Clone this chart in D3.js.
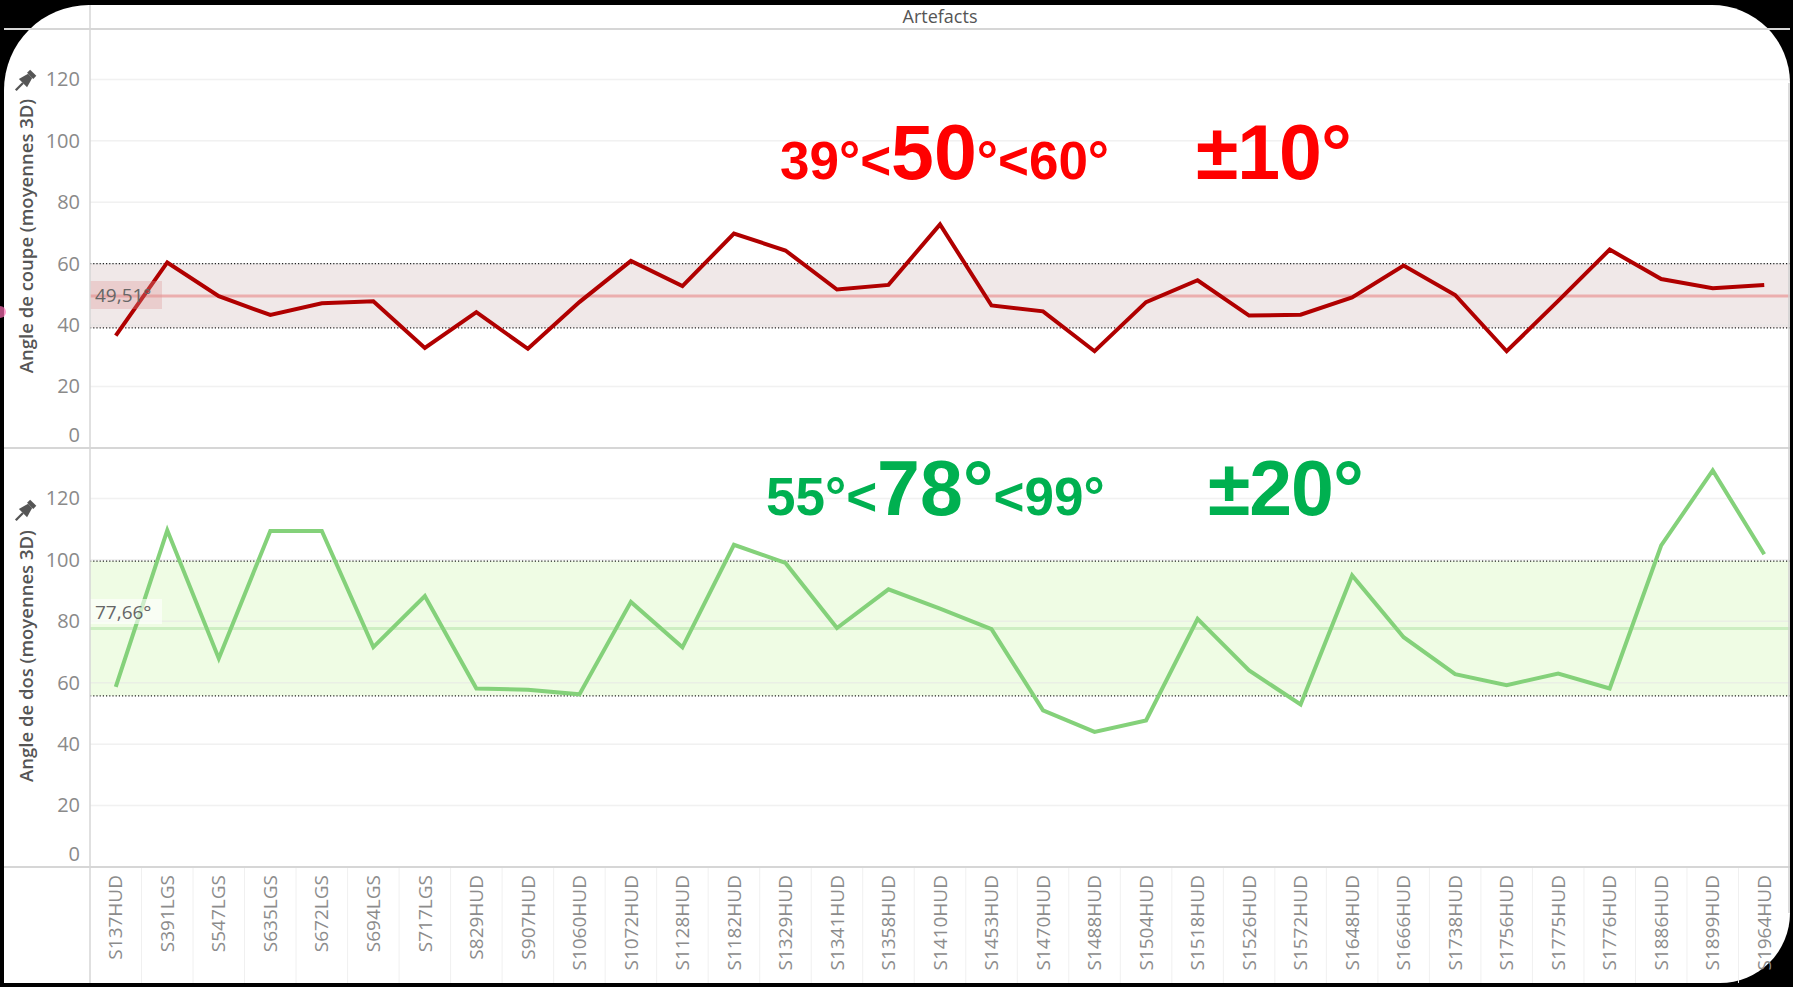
<!DOCTYPE html>
<html>
<head>
<meta charset="utf-8">
<script src="https://cdn.jsdelivr.net/npm/d3@7"></script>
<style>
body {margin:0; background:#000; overflow:hidden;}
text {font-family:"Open Sans", "Noto Sans", sans-serif;}
</style>
</head>
<body>
<div id="chart"></div>
<script>
var artefacts = ['S137HUD','S391LGS','S547LGS','S635LGS','S672LGS','S694LGS','S717LGS','S829HUD','S907HUD',
    'S1060HUD','S1072HUD','S1128HUD','S1182HUD','S1329HUD','S1341HUD','S1358HUD','S1410HUD','S1453HUD',
    'S1470HUD','S1488HUD','S1504HUD','S1518HUD','S1526HUD','S1572HUD','S1648HUD','S1666HUD','S1738HUD',
    'S1756HUD','S1775HUD','S1776HUD','S1886HUD','S1899HUD','S1964HUD'];

var angleCoupe = [36.6,60.4,49.4,43.3,47.1,47.8,32.6,44.2,32.3,47.5,60.9,52.7,69.8,64.3,51.6,53.1,72.8,
    46.4,44.5,31.5,47.5,54.6,43.1,43.4,49.0,59.4,49.8,31.5,47.9,64.6,55.0,52.0,53.1];

var angleDos = [58.6,109.6,67.9,109.4,109.4,71.6,88.2,58.1,57.7,56.2,86.3,71.5,104.9,99.0,77.8,90.4,84.1,
    77.4,51.0,44.0,47.7,80.8,64.0,52.9,94.9,74.8,62.8,59.2,63.0,58.1,104.7,129.1,101.8];

var yTicks = [0,20,40,60,80,100,120];
var yMax = 136.4;

var moyCoupe = 49.51, bandeCoupe = [39.1, 60.0];
var moyDos = 77.66, bandeDos = [55.7, 99.6];

var W = 1793, H = 987;
var left = 90, right = 1790;

var svg = d3.select('#chart').append('svg')
    .attr('width', W)
    .attr('height', H)

svg.append('rect').attr('width', W).attr('height', H).style('fill', '#000')

// carte blanche aux coins arrondis
var x0 = 4, y0 = 5, x1 = 1790, y1 = 983;
svg.append('path')
    .attr('d', 'M' + x0 + ',' + (y0 + 85) + ' A85,85 0 0 1 ' + (x0 + 85) + ',' + y0 +
        ' L' + (x1 - 78) + ',' + y0 + ' A78,78 0 0 1 ' + x1 + ',' + (y0 + 78) +
        ' L' + x1 + ',' + (y1 - 70) + ' A70,70 0 0 1 ' + (x1 - 70) + ',' + y1 +
        ' L' + x0 + ',' + y1 + ' Z')
    .style('fill', '#fff')

var xScale = d3.scaleBand()
    .domain(artefacts)
    .range([left, right])

var cx = function(d) { return xScale(d) + xScale.bandwidth() / 2; }

var panes = [
    {vals: angleCoupe, top: 29, bottom: 448, moy: moyCoupe, bande: bandeCoupe,
     stroke: '#b00000', moyColor: '#ebaeae', fill: '#f0e8e8',
     boxFill: 'rgba(222,150,150,0.32)', boxY: 281, boxH: 28, labelY: 302,
     title: 'Angle de coupe (moyennes 3D)', titleY: 236, pinY: 82},
    {vals: angleDos, top: 448, bottom: 867, moy: moyDos, bande: bandeDos,
     stroke: '#84d17a', moyColor: '#cdeec2', fill: '#effce4',
     boxFill: 'rgba(255,255,255,0.6)', boxY: 599, boxH: 25, labelY: 619,
     title: 'Angle de dos (moyennes 3D)', titleY: 656, pinY: 512}
];

panes.forEach(function(p) {
    var y = d3.scaleLinear().domain([0, yMax]).range([p.bottom, p.top]);
    var g = svg.append('g');

    // bande de référence
    g.append('rect')
        .attr('x', left).attr('width', right - left)
        .attr('y', y(p.bande[1]))
        .attr('height', y(p.bande[0]) - y(p.bande[1]))
        .style('fill', p.fill)

    g.selectAll('.grid').data(yTicks.slice(1)).enter()
        .append('line')
        .attr('x1', left).attr('x2', right)
        .attr('y1', function(d) { return y(d); })
        .attr('y2', function(d) { return y(d); })
        .style('stroke', '#e6e6e6').style('stroke-width', 1.5).style('opacity', 0.55)

    g.append('line')
        .attr('x1', left).attr('x2', right)
        .attr('y1', y(p.moy)).attr('y2', y(p.moy))
        .style('stroke', p.moyColor).style('stroke-width', 3)

    g.selectAll('.dot').data(p.bande).enter()
        .append('line')
        .attr('x1', left).attr('x2', right)
        .attr('y1', function(d) { return y(d); })
        .attr('y2', function(d) { return y(d); })
        .style('stroke', '#222').style('stroke-width', 1.2)
        .style('stroke-dasharray', '1.2,2')

    var line = d3.line()
        .x(function(d, i) { return cx(artefacts[i]); })
        .y(function(d) { return y(d); })

    g.append('path')
        .datum(p.vals)
        .attr('d', line)
        .style('fill', 'none')
        .style('stroke', p.stroke)
        .style('stroke-width', 4)

    // étiquette de la moyenne
    g.append('rect')
        .attr('x', left).attr('y', p.boxY)
        .attr('width', 72).attr('height', p.boxH)
        .style('fill', p.boxFill)
    g.append('text')
        .attr('x', left + 5).attr('y', p.labelY)
        .style('font-size', '19px').style('fill', '#666')
        .text(d3.format('.2f')(p.moy).replace('.', ',') + '°')

    // axe vertical
    var vAxis = d3.axisLeft(y).tickValues(yTicks).tickSize(0).tickPadding(10);
    var vGuide = svg.append('g').attr('transform', 'translate(' + left + ',0)');
    vAxis(vGuide);
    vGuide.select('.domain').remove();
    vGuide.selectAll('text')
        .style('font-family', '"Open Sans", sans-serif')
        .style('font-size', '20px')
        .style('fill', '#8a8a8a')
        .attr('dy', function(d) { return d === 0 ? '-0.35em' : '0.32em'; })

    svg.append('text')
        .attr('transform', 'translate(33,' + p.titleY + ') rotate(-90)')
        .attr('text-anchor', 'middle')
        .style('font-size', '18.5px').style('font-weight', 600).style('fill', '#555')
        .text(p.title)

    // punaise
    var pin = svg.append('g')
        .attr('transform', 'translate(24,' + p.pinY + ') rotate(45) scale(1.45)')
        .style('fill', '#555')
    pin.append('rect').attr('x', -3).attr('y', -9).attr('width', 6).attr('height', 3)
    pin.append('path').attr('d', 'M-2,-6 L2,-6 L4,1 L-4,1 Z')
    pin.append('rect').attr('x', -0.8).attr('y', 1).attr('width', 1.6).attr('height', 7)
});

// séparateurs
svg.append('g').selectAll('.sep').data([29, 448, 867]).enter()
    .append('line')
    .attr('x1', x0).attr('x2', x1)
    .attr('y1', function(d) { return d; })
    .attr('y2', function(d) { return d; })
    .style('stroke', '#d6d6d6').style('stroke-width', 2)

svg.append('line')
    .attr('x1', left).attr('x2', left).attr('y1', y0).attr('y2', y1)
    .style('stroke', '#d6d6d6').style('stroke-width', 1.5)

svg.append('line')
    .attr('x1', x1 - 1).attr('x2', x1 - 1).attr('y1', y0 + 78).attr('y2', y1 - 70)
    .style('stroke', '#cfcfcf').style('stroke-width', 1.5)

// axe des artefacts
svg.append('g').selectAll('.xsep').data(artefacts.slice(1)).enter()
    .append('line')
    .attr('x1', function(d) { return xScale(d); })
    .attr('x2', function(d) { return xScale(d); })
    .attr('y1', 868).attr('y2', y1)
    .style('stroke', '#f0f0f0').style('stroke-width', 1)

svg.append('g').selectAll('.xlab').data(artefacts).enter()
    .append('text')
    .attr('transform', function(d) { return 'translate(' + cx(d) + ',875) rotate(-90)'; })
    .attr('text-anchor', 'end')
    .attr('dy', '0.35em')
    .style('font-size', '19px')
    .style('fill', '#8c8c8c')
    .text(function(d) { return d; })

svg.append('text')
    .attr('x', (left + right) / 2).attr('y', 23)
    .attr('text-anchor', 'middle')
    .style('font-size', '18px').style('fill', '#555')
    .text('Artefacts')

svg.append('circle').attr('cx', 0).attr('cy', 312).attr('r', 6)
    .style('fill', '#ff6fb5').style('opacity', 0.7)

// annotations
function annot(parts, x, y, color, ls) {
    var t = svg.append('text')
        .attr('x', x).attr('y', y)
        .style('font-family', '"Liberation Sans", Arial, sans-serif')
        .style('font-weight', 'bold')
        .style('fill', color)
    parts.forEach(function(p) {
        t.append('tspan').style('font-size', p[1] + 'px').style('letter-spacing', ls + 'px').text(p[0]);
    });
}

annot([['39°<', 53], ['50', 77], ['°<60°', 53]], 780, 179, '#ff0000', 0);
annot([['±10°', 77]], 1196, 179, '#ff0000', -1);
annot([['55°<', 53], ['78°', 77], ['<99°', 53]], 766, 515, '#00b050', 0);
annot([['±20°', 77]], 1208, 515, '#00b050', -1);
</script>
</body>
</html>
